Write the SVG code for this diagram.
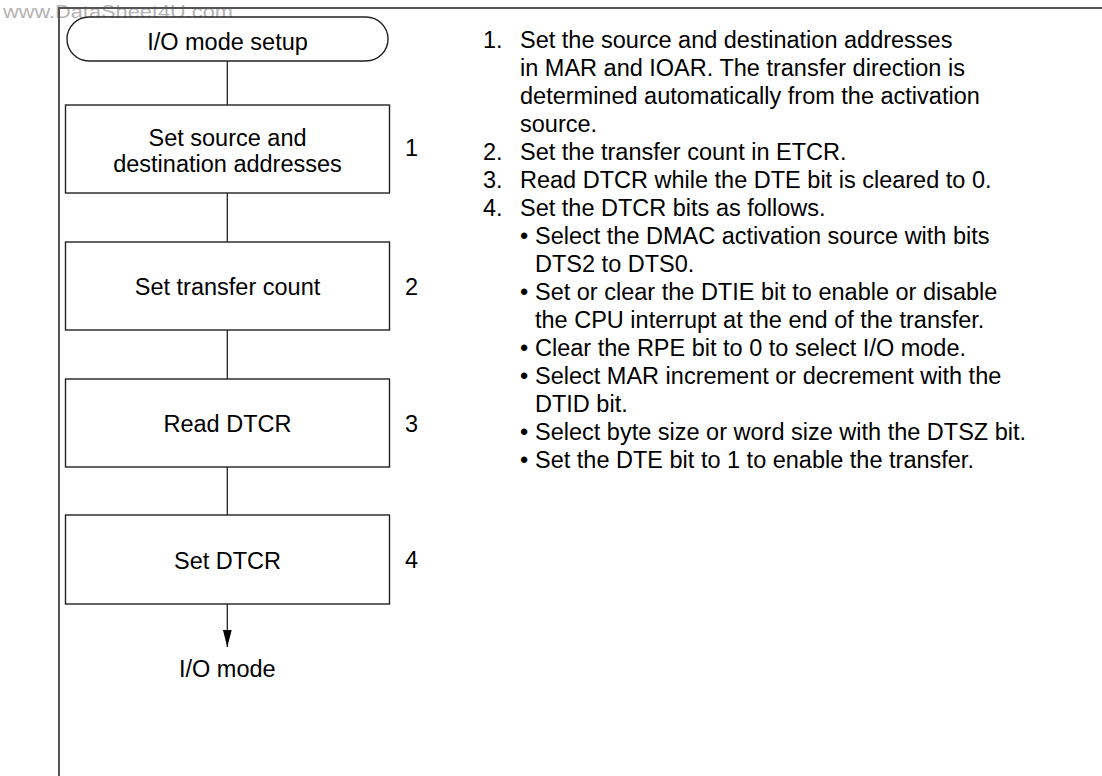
<svg xmlns="http://www.w3.org/2000/svg" width="1102" height="776" viewBox="0 0 1102 776">
<style>
text{font-family:"Liberation Sans",Arial,sans-serif;font-size:23.5px;fill:#000}
.c{text-anchor:middle}
.shape{fill:#fff;stroke:#222;stroke-width:1.4}
.conn{stroke:#222;stroke-width:1.3;fill:none}
.frame{stroke:#555;stroke-width:2;fill:none}
.wm{fill:#b4b4b4;font-size:18px}
</style>
<defs>
<marker id="arr" markerWidth="18" markerHeight="18" refX="17" refY="9" orient="auto" markerUnits="userSpaceOnUse">
<path d="M0,4.6 L17,9 L0,13.4 Z" fill="#000"/>
</marker>
</defs>
<rect width="1102" height="776" fill="#fff"/>
<text class="wm" x="3" y="18" textLength="230" lengthAdjust="spacingAndGlyphs">www.DataSheet4U.com</text>
<path class="frame" d="M59,776 L59,8 L1102,8"/>
<g id="connectors">
<line class="conn" x1="227.3" y1="61" x2="227.3" y2="105"/>
<line class="conn" x1="227.3" y1="193" x2="227.3" y2="242"/>
<line class="conn" x1="227.3" y1="330" x2="227.3" y2="379"/>
<line class="conn" x1="227.3" y1="467" x2="227.3" y2="515"/>
<line class="conn" x1="227.3" y1="604" x2="227.3" y2="647" marker-end="url(#arr)"/>
</g>
<g id="start">
<rect class="shape" x="67" y="17" width="321" height="44" rx="22" ry="22"/>
<text class="c" x="227.5" y="50">I/O mode setup</text>
</g>
<g id="step1">
<rect class="shape" x="65.5" y="105" width="324" height="88"/>
<text class="c" x="227.5" y="146">Set source and</text>
<text class="c" x="227.5" y="172">destination addresses</text>
<text x="405" y="156">1</text>
</g>
<g id="step2">
<rect class="shape" x="65.5" y="242" width="324" height="88"/>
<text class="c" x="227.5" y="295">Set transfer count</text>
<text x="405" y="295">2</text>
</g>
<g id="step3">
<rect class="shape" x="65.5" y="379" width="324" height="88"/>
<text class="c" x="227.5" y="432">Read DTCR</text>
<text x="405" y="432">3</text>
</g>
<g id="step4">
<rect class="shape" x="65.5" y="515" width="324" height="89"/>
<text class="c" x="227.5" y="569">Set DTCR</text>
<text x="405" y="568">4</text>
</g>
<g id="end">
<text class="c" x="227.3" y="677">I/O mode</text>
</g>
<g id="notes">
<text x="483" y="48">1.</text>
<text x="520" y="48">Set the source and destination addresses</text>
<text x="520" y="76">in MAR and IOAR. The transfer direction is</text>
<text x="520" y="104">determined automatically from the activation</text>
<text x="520" y="132">source.</text>
<text x="483" y="160">2.</text>
<text x="520" y="160">Set the transfer count in ETCR.</text>
<text x="483" y="188">3.</text>
<text x="520" y="188">Read DTCR while the DTE bit is cleared to 0.</text>
<text x="483" y="216">4.</text>
<text x="520" y="216">Set the DTCR bits as follows.</text>
<text x="520" y="244">•</text>
<text x="535" y="244">Select the DMAC activation source with bits</text>
<text x="535" y="272">DTS2 to DTS0.</text>
<text x="520" y="300">•</text>
<text x="535" y="300">Set or clear the DTIE bit to enable or disable</text>
<text x="535" y="328">the CPU interrupt at the end of the transfer.</text>
<text x="520" y="356">•</text>
<text x="535" y="356">Clear the RPE bit to 0 to select I/O mode.</text>
<text x="520" y="384">•</text>
<text x="535" y="384">Select MAR increment or decrement with the</text>
<text x="535" y="412">DTID bit.</text>
<text x="520" y="440">•</text>
<text x="535" y="440">Select byte size or word size with the DTSZ bit.</text>
<text x="520" y="468">•</text>
<text x="535" y="468">Set the DTE bit to 1 to enable the transfer.</text>
</g>
</svg>
